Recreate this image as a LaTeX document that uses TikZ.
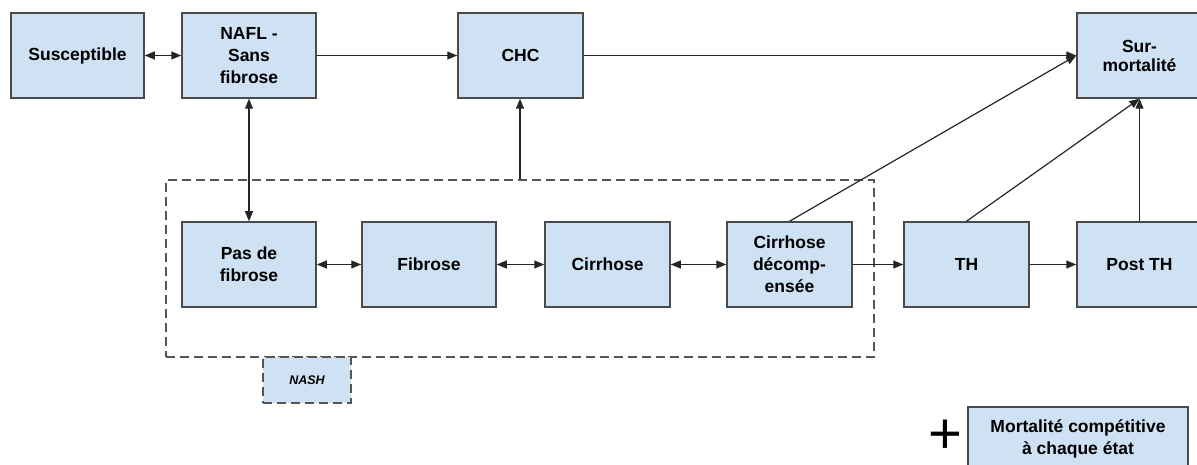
\documentclass[tikz,border=0pt]{standalone}
\usepackage{fontspec}
\setmainfont{Liberation Sans}
\usetikzlibrary{arrows.meta}
\definecolor{boxfill}{HTML}{CFE2F3}
\definecolor{boxline}{HTML}{4A4A4A}
\definecolor{dashline}{HTML}{555555}
\begin{document}
\begin{tikzpicture}[x=1pt,y=-1pt,
  state/.style={draw=boxline, line width=1.5pt, fill=boxfill, inner sep=0pt, align=center,
    minimum height=85pt, font=\fontsize{17.5}{22}\selectfont\bfseries},
  conn/.style={line width=1.2pt, draw=black!85},
  tip/.style={-{Triangle[length=10pt,width=8pt]}},
  dtip/.style={{Triangle[length=10pt,width=8pt]}-{Triangle[length=10pt,width=8pt]}},
  dashbox/.style={draw=dashline, line width=1.5pt, dash pattern=on 9pt off 5pt},
]
\useasboundingbox (0,0) rectangle (1197,465);
\fill[white] (0,0) rectangle (1197,465);

% NASH group frame
\node[dashbox, inner sep=0pt, minimum width=708pt, minimum height=177pt] (group) at (520,268.5) {};

% states
\node[state, minimum width=133pt] (sus)  at (77.5,55.5)  {Susceptible};
\node[state, minimum width=134pt] (nafl) at (249,55.5)   {NAFL -\\Sans\\fibrose};
\node[state, minimum width=125pt] (chc)  at (520.5,55.5) {CHC};
\node[state, minimum width=125pt] (sur)  at (1139.5,55.5) {Sur-\\[-3pt]mortalité};

\node[state, minimum width=134pt] (pas)  at (249,264.5)   {Pas de\\fibrose};
\node[state, minimum width=134pt] (fib)  at (429,264.5)   {Fibrose};
\node[state, minimum width=125pt] (cir)  at (607.5,264.5) {Cirrhose};
\node[state, minimum width=125pt] (cdec) at (789.5,264.5) {Cirrhose\\décomp-\\ensée};
\node[state, minimum width=125pt] (th)   at (966.5,264.5) {TH};
\node[state, minimum width=125pt] (post) at (1139.5,264.5) {Post TH};

% NASH label box
\node[dashbox, fill=boxfill, inner sep=0pt, minimum width=88pt, minimum height=46pt,
  font=\fontsize{12.5}{14}\selectfont\bfseries\itshape] (nash) at (307,380) {NASH};

% competing mortality
\node[state, minimum width=220pt, minimum height=63pt] (mort) at (1078,438.5)
  {Mortalité compétitive\\à chaque état};
\node[inner sep=0pt, font=\fontsize{58}{58}\selectfont] (plus) at (945,437) {+};

% connectors
\draw[conn,dtip] (sus) -- (nafl);
\draw[conn,tip]  (nafl) -- (chc);
\draw[conn,tip]  (chc) -- (sur);
\draw[conn,dtip] (nafl) -- (pas);
\draw[conn,tip]  (group.north) -- (group.north |- chc.south);
\draw[conn,dtip] (pas) -- (fib);
\draw[conn,dtip] (fib) -- (cir);
\draw[conn,dtip] (cir) -- (cdec);
\draw[conn,tip]  (cdec) -- (th);
\draw[conn,tip]  (th) -- (post);
\draw[conn,tip]  (cdec.north) -- (sur.west);
\draw[conn,tip]  (th.north) -- (sur.south);
\draw[conn,tip]  (post) -- (sur);
\end{tikzpicture}
\end{document}
